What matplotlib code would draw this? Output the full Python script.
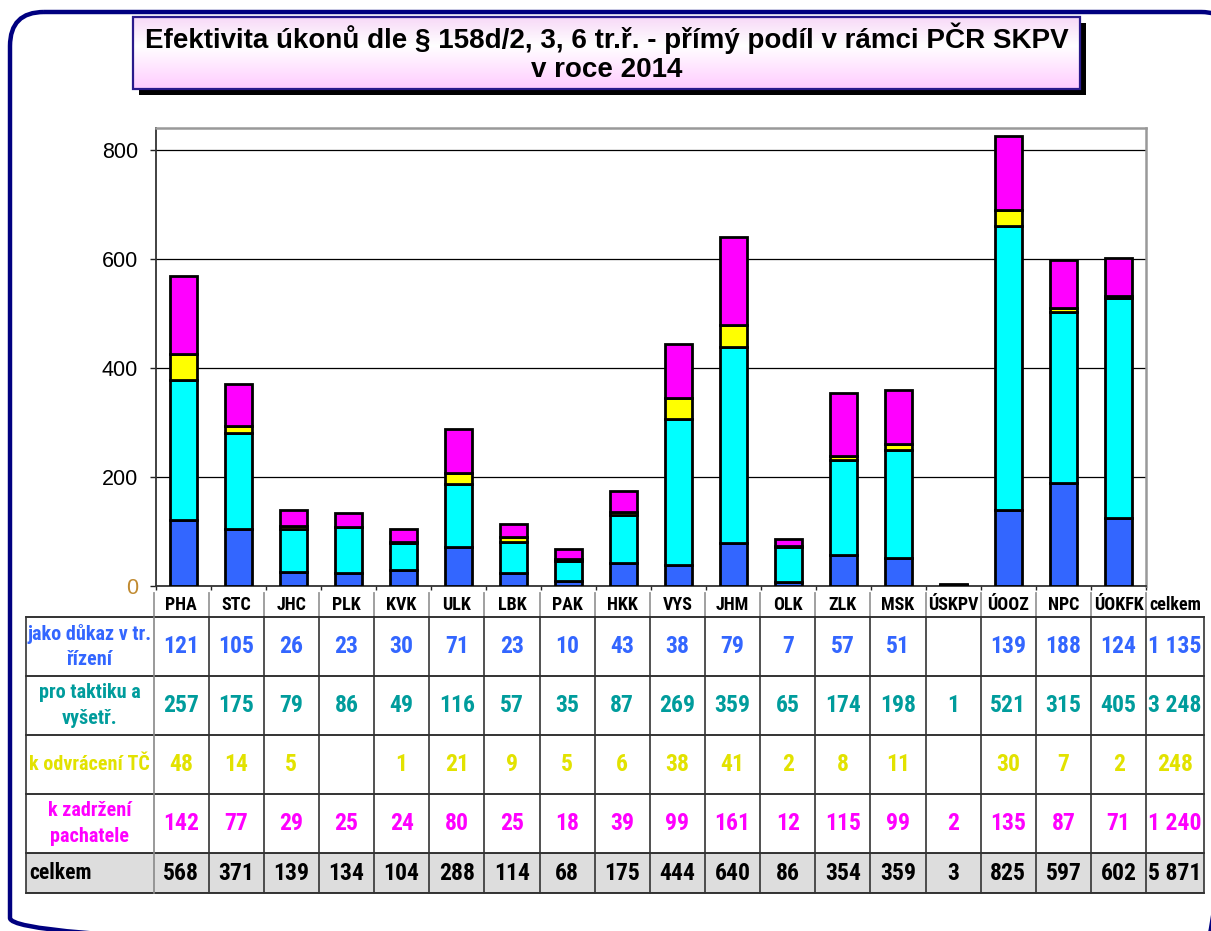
import matplotlib
matplotlib.use("Agg")
import matplotlib.pyplot as plt
import numpy as np
from matplotlib.patches import Rectangle, FancyBboxPatch

# ---------------- data ----------------
categories = ["PHA", "STC", "JHC", "PLK", "KVK", "ULK", "LBK", "PAK", "HKK", "VYS",
              "JHM", "OLK", "ZLK", "MSK", "ÚSKPV", "ÚOOZ", "NPC", "ÚOKFK"]
dukaz = [121, 105, 26, 23, 30, 71, 23, 10, 43, 38, 79, 7, 57, 51, None, 139, 188, 124]
taktika = [257, 175, 79, 86, 49, 116, 57, 35, 87, 269, 359, 65, 174, 198, 1, 521, 315, 405]
odvraceni = [48, 14, 5, None, 1, 21, 9, 5, 6, 38, 41, 2, 8, 11, None, 30, 7, 2]
zadrzeni = [142, 77, 29, 25, 24, 80, 25, 18, 39, 99, 161, 12, 115, 99, 2, 135, 87, 71]
series_labels = ["jako důkaz v tr.\nřízení", "pro taktiku a\nvyšetř.",
                 "k odvrácení TČ", "k zadržení\npachatele"]
total_label = "celkem"
title_lines = ["Efektivita úkonů dle § 158d/2, 3, 6 tr.ř. - přímý podíl v rámci PČR SKPV",
               "v roce 2014"]
yticks = [0, 200, 400, 600, 800]

# ---------------- styles ----------------
bar_colors = ["#3366FF", "#00FFFF", "#FFFF00", "#FF00FF"]
text_colors = ["#3366FF", "#009C9C", "#E2E200", "#FF00FF"]
NARROW = ["Roboto Condensed", "Archivo Narrow", "DejaVu Sans"]
ARIAL = ["Liberation Sans", "DejaVu Sans"]

W, H = 1211, 931
fig = plt.figure(figsize=(W / 100, H / 100), dpi=100)
fig.patch.set_facecolor("white")

bg = fig.add_axes([0, 0, 1, 1])
bg.set_xlim(0, W)
bg.set_ylim(H, 0)
bg.axis("off")

frame = FancyBboxPatch((10, 12), 1225, 940, boxstyle="round,pad=0,rounding_size=34",
                       fc="none", ec="#000080", lw=3.2)
bg.add_patch(frame)

tx0, ty0, tx1, ty1 = 133, 17, 1080, 89
bg.add_patch(Rectangle((tx0 + 6, ty0 + 6), tx1 - tx0, ty1 - ty0, fc="black", ec="none"))
grad = np.concatenate([np.linspace(0, 1, 40), np.linspace(1, 0, 60)[1:]])
c_pink = np.array([1.0, 0.80, 1.0])
c_white = np.array([1.0, 1.0, 1.0])
c_top = np.array([0.97, 0.85, 0.97])
rows = []
for i, t in enumerate(grad):
    base = c_top if i < 40 else c_pink
    rows.append(base * (1 - t) + c_white * t)
img = np.array(rows)[:, None, :]
bg.imshow(img, extent=(tx0, tx1, ty1, ty0), aspect="auto", zorder=2)
bg.add_patch(Rectangle((tx0, ty0), tx1 - tx0, ty1 - ty0, fc="none", ec="#2A1A8C", lw=1.6, zorder=3))
bg.text((tx0 + tx1) / 2, 38, title_lines[0], ha="center", va="center",
        fontsize=20, fontweight="bold", family=ARIAL, zorder=4)
bg.text((tx0 + tx1) / 2, 70, title_lines[1], ha="center", va="center",
        fontsize=20, fontweight="bold", family=ARIAL, zorder=4)

# ---------------- chart ----------------
ax_l, ax_r, ax_t, ax_b = 156, 1146, 128, 586
ax = fig.add_axes([ax_l / W, 1 - ax_b / H, (ax_r - ax_l) / W, (ax_b - ax_t) / H])
ax.set_facecolor("white")
x = np.arange(len(categories))
series = [dukaz, taktika, odvraceni, zadrzeni]
bottom = np.zeros(len(categories))
for vals, col in zip(series, bar_colors):
    v = np.array([0 if a is None else a for a in vals], dtype=float)
    ax.bar(x, v, 0.5, bottom=bottom, color=col, edgecolor="black", linewidth=2.0, zorder=3)
    bottom += v

ax.set_xlim(-0.5, len(categories) - 0.5)
ax.set_ylim(0, 840)
ax.set_yticks(yticks)
ax.set_yticklabels([str(t) for t in yticks], family=ARIAL, fontsize=15.5)
ax.get_yticklabels()[0].set_color("#C08A30")
ax.yaxis.grid(True, color="black", lw=0.9, zorder=0)
ax.set_axisbelow(True)
ax.tick_params(axis="y", length=4, width=1, pad=9, color="#222222")
ax.set_xticks(np.arange(len(categories) + 1) - 0.5)
ax.set_xticklabels([])
ax.tick_params(axis="x", length=3, width=1, color="#222222")
ax.spines["left"].set_color("#333333")
ax.spines["left"].set_linewidth(1.3)
ax.spines["bottom"].set_color("#333333")
ax.spines["bottom"].set_linewidth(1.3)
for s in ("top", "right"):
    ax.spines[s].set_color("#999999")
    ax.spines[s].set_linewidth(1.8)

# ---------------- table ----------------
lab_x0, lab_x1 = 26, 153.5
colw = 55.15
ncol = len(categories)
col_edges = [lab_x1 + colw * i for i in range(ncol + 1)]
tot_x1 = 1204
row_edges = [617, 676, 735, 794, 853, 893]
head_y0 = 593

bg.add_patch(Rectangle((lab_x0, row_edges[4]), tot_x1 - lab_x0, row_edges[5] - row_edges[4],
                       fc="#DDDDDD", ec="none", zorder=1))
for xe in col_edges:
    bg.plot([xe, xe], [head_y0, row_edges[0]], color="#999999", lw=1.3, zorder=2)
for ye in row_edges:
    bg.plot([lab_x0, tot_x1], [ye, ye], color="#111111", lw=1.2, zorder=2)
for xe in [lab_x0] + col_edges + [tot_x1]:
    c = "#888888" if xe == lab_x1 else "#333333"
    bg.plot([xe, xe], [row_edges[0], row_edges[5]], color=c, lw=1.2, zorder=2)

head_y = 605
for i, name in enumerate(categories + [total_label]):
    cx = (col_edges[i] + col_edges[i + 1]) / 2 if i < ncol else (col_edges[-1] + tot_x1) / 2
    bg.text(cx, head_y, name, ha="center", va="center", fontsize=13,
            fontweight="bold", family=NARROW, color="black", zorder=4)

def fmt(v):
    return f"{v:,}".replace(",", " ")

NUM_FS = 17
totals_per_cat = [sum(0 if s[i] is None else s[i] for s in series) for i in range(ncol)]
for r, (vals, tc, lab) in enumerate(zip(series, text_colors, series_labels)):
    cy = (row_edges[r] + row_edges[r + 1]) / 2
    bg.text((lab_x0 + lab_x1) / 2, cy, lab, ha="center", va="center", fontsize=14.5,
            fontweight="bold", family=NARROW, color=tc, linespacing=1.45, zorder=4)
    for i, v in enumerate(vals):
        if v is None:
            continue
        cx = (col_edges[i] + col_edges[i + 1]) / 2
        bg.text(cx, cy, fmt(v), ha="center", va="center", fontsize=NUM_FS,
                fontweight="bold", family=NARROW, color=tc, zorder=4)
    tot = sum(0 if a is None else a for a in vals)
    bg.text((col_edges[-1] + tot_x1) / 2, cy, fmt(tot), ha="center", va="center",
            fontsize=NUM_FS, fontweight="bold", family=NARROW, color=tc, zorder=4)

cy = (row_edges[4] + row_edges[5]) / 2
bg.text(lab_x0 + 3, cy, total_label, ha="left", va="center", fontsize=15.5,
        fontweight="bold", family=NARROW, color="black", zorder=4)
for i, v in enumerate(totals_per_cat):
    cx = (col_edges[i] + col_edges[i + 1]) / 2
    bg.text(cx, cy, fmt(v), ha="center", va="center", fontsize=NUM_FS,
            fontweight="bold", family=NARROW, color="black", zorder=4)
bg.text((col_edges[-1] + tot_x1) / 2, cy, fmt(sum(totals_per_cat)), ha="center", va="center",
        fontsize=NUM_FS, fontweight="bold", family=NARROW, color="black", zorder=4)

fig.savefig("out.png", dpi=100, facecolor="white")
